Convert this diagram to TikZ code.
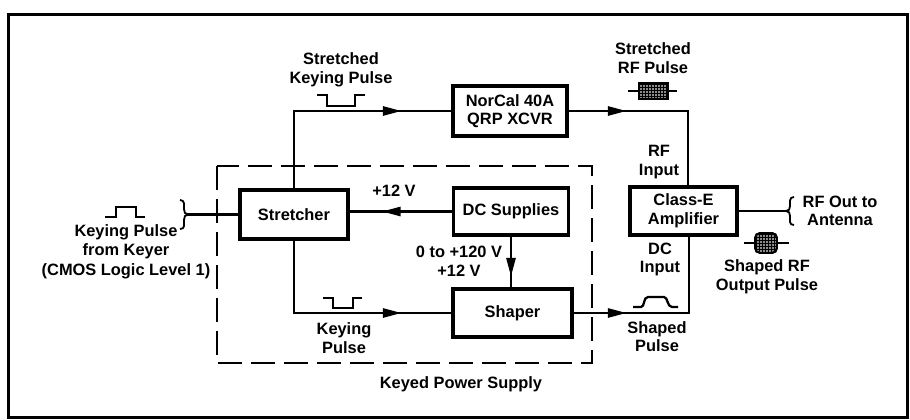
\documentclass[tikz,border=0pt]{standalone}
\usepackage{fontspec}
\setmainfont{Liberation Sans}
\usetikzlibrary{arrows.meta,decorations.markings,patterns}
\newcommand\lblfont{\fontsize{16.4}{18.5}\selectfont\bfseries}
\begin{document}
\begin{tikzpicture}[x=1pt,y=-1pt,
  box/.style={draw, line width=3.6pt, inner sep=0pt, align=center, font=\lblfont},
  lbl/.style={inner sep=0pt, align=center, font=\lblfont},
  conn/.style={line width=2.8pt},
  midarrow/.style={postaction={decorate}, decoration={markings,
      mark=at position #1 with {\arrow{Triangle[length=19pt,width=9pt]}}}},
  dashbox/.style={line width=1.5pt, dash pattern=on 24pt off 9pt},
  pulse/.style={line width=2.3pt},
  rfpulse/.style={line width=1.8pt, pattern=grid, pattern color=black}]
\useasboundingbox (0,0) rectangle (910,420);
% outer frame
\draw[line width=3pt] (8,15) rectangle (907,417);
% dashed keyed power supply
\draw[dashbox] (217,166) rectangle (592,363);
% blocks
\node[box, minimum width=108pt, minimum height=49pt] (stretcher) at (294,214.5) {Stretcher};
\node[box, minimum width=114pt, minimum height=50pt] (norcal) at (510,111) {NorCal 40A\\QRP XCVR};
\node[box, minimum width=115pt, minimum height=47pt] (dcsup) at (511,211.5) {DC Supplies};
\node[box, minimum width=119pt, minimum height=48pt] (shaper) at (512.5,313) {Shaper};
\node[box, minimum width=107pt, minimum height=48pt] (classe) at (683.5,211) {Class-E\\Amplifier};
% helper coordinates
\coordinate (rfin) at ([xshift=4.5pt]classe.north);
\coordinate (dcin) at ([xshift=5.5pt]classe.south);
\coordinate (inbrace) at (186,214.5);
\coordinate (outbrace) at (787,211);
% connectors
\draw[conn, midarrow=185pt] (stretcher.north) |- (norcal.west);
\draw[conn, midarrow=58pt] (norcal.east) -| (rfin);
\draw[conn, midarrow=70pt] (dcsup.west) -- (dcsup.west -| stretcher.east);
\draw[conn, midarrow=40pt] (dcsup.south) -- (dcsup.south |- shaper.north);
\draw[conn, midarrow=180pt] (stretcher.south) |- (shaper.west);
\draw[conn, midarrow=53pt] (shaper.east) -| (dcin);
\draw[conn] (classe.east) -- (outbrace);
\draw[conn] (inbrace) -- (stretcher.west);
% braces
\draw[line width=1.8pt] (180,200) .. controls (185,200) and (184,205) .. (184,209)
  .. controls (184,212) and (185,214.5) .. (188,214.5)
  .. controls (185,214.5) and (184,217) .. (184,220)
  .. controls (184,225) and (185,229) .. (180,229);
\draw[line width=1.8pt] (794,197) .. controls (789,197) and (790,202) .. (790,206)
  .. controls (790,209) and (789,211) .. (786,211)
  .. controls (789,211) and (790,213) .. (790,216)
  .. controls (790,221) and (789,225) .. (794,225);
% pulse symbols
\draw[pulse] (105,217) -- (116,217) -- (116,207) -- (136,207) -- (136,217) -- (145,217);
\draw[pulse] (317,95) -- (327,95) -- (327,106) -- (355,106) -- (355,95) -- (365,95);
\draw[pulse] (323,298) -- (333,298) -- (333,308) -- (353,308) -- (353,298) -- (362,298);
\draw[pulse] (633,307) -- (641,307) .. controls (645,307) and (643,297) .. (648,297) -- (664,297)
  .. controls (668,297) and (667,307) .. (672,307) -- (678,307);
% RF pulse symbols
\draw[line width=1.8pt] (628,91) -- (677,91);
\draw[line width=1.8pt, fill=black!45] (639,83) rectangle (668,99);
\draw[rfpulse] (639,83) rectangle (668,99);
\draw[line width=1.8pt] (744,243) -- (789,243);
\draw[line width=1.8pt, fill=black!45, rounded corners=5pt] (755,233) rectangle (777,253);
\draw[rfpulse, rounded corners=5pt] (755,233) rectangle (777,253);
% labels
\node[lbl] (lskp) at (341,70) {Stretched\\Keying Pulse};
\node[lbl] (lsrf) at (653,58) {Stretched\\RF Pulse};
\node[lbl] (lrfin) at (659,162) {RF\\Input};
\node[lbl] (lout) at (840,211) {RF Out to\\Antenna};
\node[lbl] (lsrfo) at (767,277) {Shaped RF\\Output Pulse};
\node[lbl] (ldcin) at (660,259.5) {DC\\Input};
\node[lbl] (lshp) at (657,336.5) {Shaped\\Pulse};
\node[lbl] (lvolt) at (459,261.5) {0 to +120 V\\+12 V};
\node[lbl] (l12) at (394,191) {+12 V};
\node[lbl] (lkp) at (344,338) {Keying\\Pulse};
\node[lbl, font=\fontsize{16.4}{19.5}\selectfont\bfseries] (lin) at (126,251.5) {Keying Pulse\\from Keyer\\(CMOS Logic Level 1)};
\node[lbl] (lkps) at (461,384) {Keyed Power Supply};
\end{tikzpicture}
\end{document}
